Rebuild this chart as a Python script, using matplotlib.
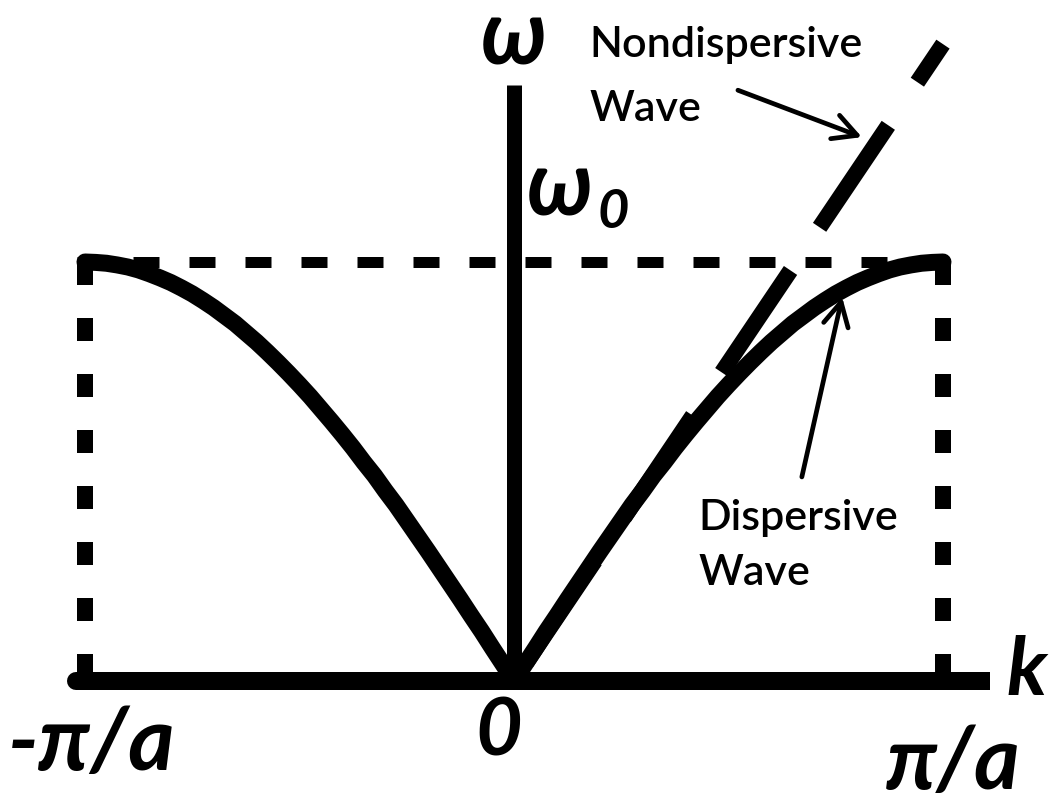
import numpy as np
import matplotlib
matplotlib.use("Agg")
import matplotlib.pyplot as plt

# Wavevector in units of pi/a, frequency in units of omega_0
k_half = [0.000, 0.025, 0.050, 0.075, 0.100, 0.125, 0.150, 0.175, 0.200, 0.225,
          0.250, 0.275, 0.300, 0.325, 0.350, 0.375, 0.400, 0.425, 0.450, 0.475,
          0.500, 0.525, 0.550, 0.575, 0.600, 0.625, 0.650, 0.675, 0.700, 0.725,
          0.750, 0.775, 0.800, 0.825, 0.850, 0.875, 0.900, 0.925, 0.950, 0.975,
          1.000]
omega_half = [0.000, 0.039, 0.078, 0.118, 0.156, 0.195, 0.233, 0.271, 0.309, 0.346,
              0.383, 0.420, 0.454, 0.490, 0.522, 0.556, 0.588, 0.619, 0.649, 0.679,
              0.707, 0.734, 0.760, 0.785, 0.809, 0.831, 0.853, 0.872, 0.891, 0.908,
              0.924, 0.938, 0.951, 0.962, 0.972, 0.981, 0.988, 0.993, 0.997, 0.999,
              1.000]

# Straight (nondispersive) branch
k_line = [0.0, 1.0]
omega_line = [0.0, 1.52]

zone_edges = [-1.0, 1.0]
omega0 = 1.0

k_curve = [-k for k in k_half[::-1]] + k_half[1:]
omega_curve = omega_half[::-1] + omega_half[1:]

plt.rcParams["lines.scale_dashes"] = False
FONT = ["Lato", "DejaVu Sans"]

fig = plt.figure(figsize=(10.55, 8.02), dpi=100)
ax = fig.add_axes([0, 0, 1, 1])
ax.set_xlim(-1.1981, 1.2611)
ax.set_ylim(-0.2888, 1.6253)
ax.set_axis_off()

PX = 0.72  # points per pixel

# omega_0 level and zone boundaries
ax.plot([-1.0186, zone_edges[1]], [omega0, omega0], color="black", lw=11 * PX,
        linestyle=(0, (26 * PX, 30 * PX)), dash_capstyle="butt")
for ke in zone_edges:
    ax.plot([ke, ke], [omega0, 0], color="black", lw=16 * PX,
            linestyle=(0, (23 * PX, 33 * PX)), dash_capstyle="butt")

# Axes
ax.plot([-1.020, 0.0], [0, 0], color="black", lw=18 * PX, solid_capstyle="round")
ax.plot([0.0, 1.1096], [0, 0], color="black", lw=18 * PX, solid_capstyle="butt")
ax.plot([0, 0], [0, 1.4224], color="black", lw=15 * PX, solid_capstyle="butt")

# Nondispersive branch
ax.plot(k_line, omega_line, color="black", lw=16 * PX,
        linestyle=(153 * PX, (123 * PX, 52 * PX)), dash_capstyle="butt")

# Dispersion curve
ax.plot(k_curve, omega_curve, color="black", lw=17 * PX,
        solid_capstyle="round", solid_joinstyle="round")

# Axis labels
lab = dict(family=FONT, weight="bold", style="italic", color="black")
ax.text(0.0, 1.472, "ω", ha="center", va="baseline", fontsize=64, **lab)
ax.text(0.030, 1.110, "ω", ha="left", va="baseline", fontsize=64, **lab)
ax.text(0.195, 1.081, "0", ha="left", va="baseline", fontsize=39, **lab)
ax.text(1.147, -0.033, "k", ha="left", va="baseline", fontsize=58, **lab)
ax.text(-1.180, -0.212, "-π/a", ha="left", va="baseline", fontsize=64, **lab)
ax.text(-0.035, -0.177, "0", ha="center", va="baseline", fontsize=58, **lab)
ax.text(0.867, -0.258, "π/a", ha="left", va="baseline", fontsize=63, **lab)

# Annotations
note = dict(family=FONT, fontsize=31, weight="semibold", color="black")
ax.text(0.175, 1.489, "Nondispersive", ha="left", va="baseline", **note)
ax.text(0.175, 1.337, "Wave", ha="left", va="baseline", **note)
ax.text(0.429, 0.360, "Dispersive", ha="left", va="baseline", **note)
ax.text(0.429, 0.229, "Wave", ha="left", va="baseline", **note)

arrow = dict(arrowstyle="->,head_length=1.7,head_width=0.9", color="black",
             lw=3.4, shrinkA=0, shrinkB=0)
ax.annotate("", xy=(0.811, 1.298), xytext=(0.522, 1.410), arrowprops=arrow)
ax.annotate("", xy=(0.765, 0.916), xytext=(0.671, 0.487), arrowprops=arrow)

fig.savefig("out.png", dpi=100, facecolor="white")
